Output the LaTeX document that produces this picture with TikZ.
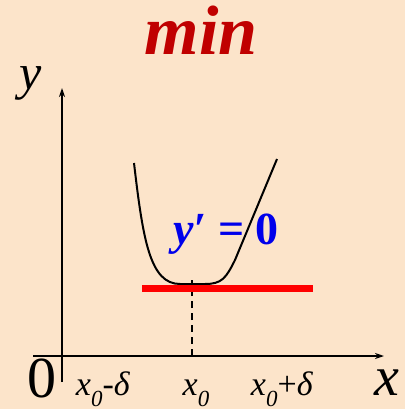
\documentclass[tikz,border=0pt]{standalone}
\usepackage{fontspec}
\setmainfont{Liberation Serif}
\usetikzlibrary{arrows.meta}
\definecolor{bgpeach}{RGB}{252,228,202}
\definecolor{minred}{RGB}{192,0,0}
\definecolor{dblue}{RGB}{0,0,235}
\tikzset{
  axis/.style={line width=1.5pt,-{Stealth[length=9pt,width=6pt]}},
  lbl/.style={inner sep=0pt,anchor=base},
}
\newcommand{\xsub}[1]{\textit{x}\raisebox{-0.35em}{\fontsize{23}{23}\selectfont\textit{#1}}}
\begin{document}
\begin{tikzpicture}[x=1pt,y=-1pt]
\fill[bgpeach] (0,0) rectangle (405,409);
\useasboundingbox (0,0) rectangle (405,409);
% axes
\coordinate (ybot) at (62,382);
\coordinate (ytop) at (62,88);
\coordinate (xl) at (33,356);
\coordinate (xr) at (384,356);
\draw[axis] (ybot) -- (ytop);
\draw[axis] (xl) -- (xr);
% dashed
\coordinate (d1) at (192,356);
\coordinate (d2) at (192,280);
\draw[line width=1.5pt,dash pattern=on 7pt off 5pt] (d1) -- (d2);
% curve
\draw[line width=2pt] (134,163) .. controls (143,240) and (150,284) .. (180,284)
  -- (205,284) .. controls (222,284) and (226,278) .. (235,260) -- (277,159);
% red tangent
\coordinate (r1) at (142,288);
\coordinate (r2) at (313,288);
\draw[red,line width=7pt] (r1) -- (r2);
% labels
\node[lbl,text=minred,font=\fontsize{70}{70}\selectfont\bfseries\itshape] (min) at (201,55) {min};
\node[lbl,font=\fontsize{50}{50}\selectfont\itshape] (ylab) at (31,90) {y};
\node[lbl,font=\fontsize{58}{58}\selectfont] (zero) at (42,397) {0};
\node[lbl,font=\fontsize{56}{56}\selectfont\itshape] (xlab) at (387,395) {x};
\node[lbl,text=dblue,font=\fontsize{46}{46}\selectfont\bfseries] (yp) at (226,244) {\textit{y′} = 0};
\node[lbl,font=\fontsize{34}{34}\selectfont] (a) at (103,395) {\xsub{0}-\textit{δ}};
\node[lbl,font=\fontsize{34}{34}\selectfont] (b) at (196,395) {\xsub{0}};
\node[lbl,font=\fontsize{34}{34}\selectfont] (c) at (282,395) {\xsub{0}+\textit{δ}};
\end{tikzpicture}
\end{document}
